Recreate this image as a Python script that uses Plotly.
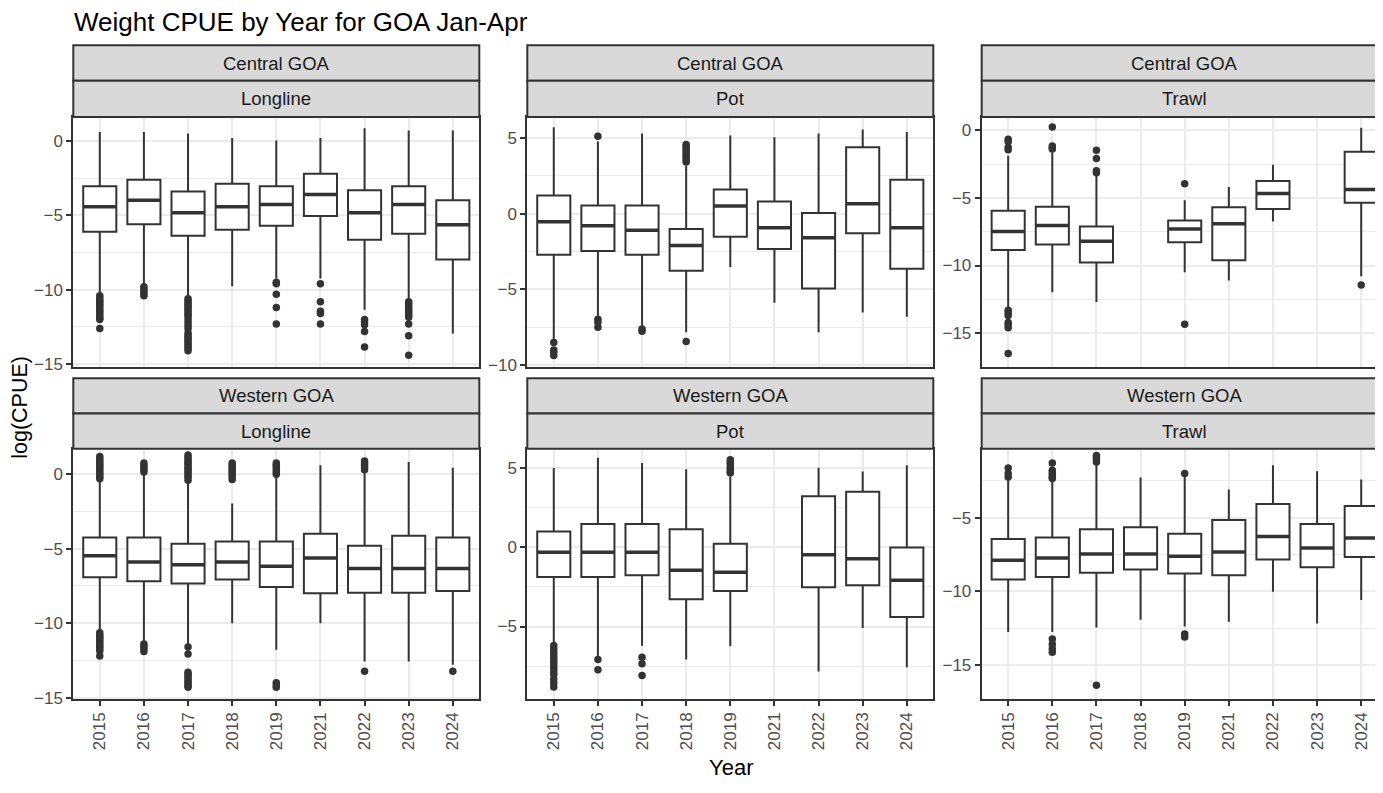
import plotly.graph_objects as go

YEARS = ["2015", "2016", "2017", "2018", "2019", "2021", "2022", "2023", "2024"]

# ---------------- Central GOA - Longline ----------------
CL_YEARS = ["2015", "2016", "2017", "2018", "2019", "2021", "2022", "2023", "2024"]
CL_LOW = [-10.2, -9.7, -10.5, -9.76, -9.25, -9.25, -11.35, -10.6, -12.94]
CL_Q1 = [-6.1, -5.6, -6.37, -5.97, -5.7, -5.04, -6.64, -6.24, -7.96]
CL_MED = [-4.42, -3.98, -4.82, -4.42, -4.27, -3.6, -4.82, -4.27, -5.64]
CL_Q3 = [-3.05, -2.6, -3.4, -2.88, -3.05, -2.2, -3.32, -3.05, -3.98]
CL_HIGH = [0.6, 0.6, 0.5, 0.2, 0.04, 0.2, 0.86, 0.7, 0.7]
CL_OUT = {
    "2015": [-10.4, -10.55, -10.7, -10.85, -11.0, -11.15, -11.3, -11.45, -11.6, -11.75, -11.9, -12.0, -12.6],
    "2016": [-9.8, -9.95, -10.1, -10.25, -10.4],
    "2017": [-10.6, -10.75, -10.9, -11.05, -11.2, -11.35, -11.5, -11.65, -11.8, -12.0, -12.2, -12.4, -12.6,
             -12.9, -13.05, -13.2, -13.35, -13.5, -13.65, -13.8, -13.95, -14.1],
    "2019": [-9.5, -9.6, -10.3, -11.2, -12.3],
    "2021": [-9.6, -10.8, -11.45, -11.6, -12.3],
    "2022": [-12.0, -12.15, -12.35, -12.8, -13.85],
    "2023": [-10.8, -10.95, -11.1, -11.25, -11.4, -11.55, -11.7, -11.85, -12.3, -13.1, -14.4],
}

# ---------------- Central GOA - Pot ----------------
CP_YEARS = ["2015", "2016", "2017", "2018", "2019", "2021", "2022", "2023", "2024"]
CP_LOW = [-8.37, -6.74, -7.4, -7.83, -3.52, -5.87, -7.83, -6.52, -6.8]
CP_Q1 = [-2.72, -2.46, -2.72, -3.76, -1.52, -2.33, -4.93, -1.3, -3.63]
CP_MED = [-0.54, -0.8, -1.09, -2.1, 0.5, -0.93, -1.59, 0.65, -0.93]
CP_Q3 = [1.2, 0.54, 0.54, -1.02, 1.59, 0.8, 0.04, 4.37, 2.24]
CP_HIGH = [5.7, 4.75, 5.28, 3.15, 5.15, 5.04, 5.28, 5.54, 5.39]
CP_OUT = {
    "2015": [-8.5, -9.0, -9.15, -9.35],
    "2016": [5.1, -6.96, -7.17, -7.5],
    "2017": [-7.6, -7.75],
    "2018": [3.4, 3.55, 3.7, 3.85, 4.0, 4.15, 4.3, 4.45, 4.56, -8.43],
}

# ---------------- Central GOA - Trawl ----------------
CT_YEARS = ["2015", "2016", "2017", "2019", "2021", "2022", "2024"]
CT_LOW = [-13.06, -11.97, -12.69, -10.5, -11.1, -6.75, -10.8]
CT_Q1 = [-8.86, -8.45, -9.78, -8.28, -9.61, -5.83, -5.36]
CT_MED = [-7.48, -7.04, -8.2, -7.31, -6.92, -4.68, -4.39]
CT_Q3 = [-5.95, -5.66, -7.11, -6.67, -5.7, -3.76, -1.6]
CT_HIGH = [-1.9, -1.65, -3.35, -5.17, -4.2, -2.55, 0.17]
CT_OUT = {
    "2015": [-0.68, -0.85, -1.29, -1.45, -13.3, -13.5, -13.7, -14.2, -14.4, -14.6, -16.5],
    "2016": [0.24, -1.17, -1.3, -1.4],
    "2017": [-1.48, -2.09, -2.99, -3.15],
    "2019": [-3.96, -14.34],
    "2024": [-11.43],
}

# ---------------- Western GOA - Longline ----------------
WL_YEARS = ["2015", "2016", "2017", "2018", "2019", "2021", "2022", "2023", "2024"]
WL_LOW = [-10.62, -11.33, -11.5, -10.0, -11.78, -10.0, -12.58, -12.58, -12.8]
WL_Q1 = [-6.91, -7.18, -7.33, -7.07, -7.58, -8.0, -7.96, -7.96, -7.84]
WL_MED = [-5.47, -5.89, -6.07, -5.89, -6.18, -5.62, -6.33, -6.33, -6.33]
WL_Q3 = [-4.24, -4.24, -4.67, -4.51, -4.51, -4.0, -4.8, -4.13, -4.24]
WL_HIGH = [-0.4, 0.04, -0.5, -1.96, -0.07, 0.6, 0.22, 0.82, 0.44]
WL_OUT = {
    "2015": [1.2, 1.05, 0.9, 0.75, 0.6, 0.45, 0.3, 0.15, 0.0, -0.15, -0.3,
             -10.65, -10.8, -10.95, -11.1, -11.25, -11.4, -11.55, -11.7, -11.85, -12.2],
    "2016": [0.75, 0.6, 0.45, 0.3, 0.15, -11.4, -11.55, -11.7, -11.9],
    "2017": [1.3, 1.15, 1.0, 0.85, 0.7, 0.55, 0.4, 0.25, 0.1, -0.05, -0.2, -0.4,
             -11.6, -12.07, -13.3, -13.45, -13.6, -13.75, -13.9, -14.05, -14.2, -14.3],
    "2018": [0.75, 0.6, 0.45, 0.3, 0.15, 0.0, -0.15, -0.35],
    "2019": [0.75, 0.6, 0.45, 0.3, 0.15, 0.0, -14.0, -14.15, -14.3],
    "2022": [0.9, 0.75, 0.6, 0.45, 0.3, -13.24],
    "2024": [-13.24],
}

# ---------------- Western GOA - Pot ----------------
WP_YEARS = ["2015", "2016", "2017", "2018", "2019", "2022", "2023", "2024"]
WP_LOW = [-6.1, -6.94, -6.21, -7.08, -6.25, -7.83, -5.1, -7.56]
WP_Q1 = [-1.88, -1.88, -1.77, -3.29, -2.77, -2.52, -2.4, -4.4]
WP_MED = [-0.33, -0.33, -0.33, -1.46, -1.58, -0.48, -0.73, -2.08]
WP_Q3 = [0.98, 1.46, 1.46, 1.13, 0.21, 3.21, 3.48, -0.02]
WP_HIGH = [4.98, 5.63, 5.29, 4.9, 4.42, 5.0, 4.77, 5.15]
WP_OUT = {
    "2015": [-6.2, -6.4, -6.6, -6.8, -7.0, -7.2, -7.4, -7.6, -7.8, -8.0, -8.3, -8.55, -8.81],
    "2016": [-7.08, -7.73],
    "2017": [-6.94, -7.35, -8.08],
    "2019": [5.5, 5.35, 5.2, 5.05, 4.9, 4.75, 4.67],
}

# ---------------- Western GOA - Trawl ----------------
WT_YEARS = ["2015", "2016", "2017", "2018", "2019", "2021", "2022", "2023", "2024"]
WT_LOW = [-12.76, -12.76, -12.46, -11.94, -12.4, -12.08, -10.04, -12.19, -10.6]
WT_Q1 = [-9.2, -9.04, -8.75, -8.53, -8.8, -8.91, -7.85, -8.37, -7.67]
WT_MED = [-7.9, -7.74, -7.47, -7.47, -7.63, -7.34, -6.28, -7.07, -6.39]
WT_Q3 = [-6.46, -6.35, -5.79, -5.65, -6.1, -5.16, -4.08, -5.43, -4.21]
WT_HIGH = [-2.28, -2.42, -1.29, -2.28, -2.24, -3.09, -1.45, -1.85, -2.42]
WT_OUT = {
    "2015": [-1.63, -2.0, -2.24],
    "2016": [-1.29, -1.79, -1.95, -2.1, -2.25, -2.35, -13.25, -13.6, -13.9, -14.15],
    "2017": [-0.78, -0.9, -1.05, -1.22, -16.39],
    "2019": [-2.01, -12.9, -13.1],
}

REGIONS = ["Central GOA", "Central GOA", "Central GOA", "Western GOA", "Western GOA", "Western GOA"]
GEARS = ["Longline", "Pot", "Trawl", "Longline", "Pot", "Trawl"]
Y_RANGES = [(-15.18, 1.61), (-10.1, 6.37), (-17.48, 0.97),
            (-15.07, 1.71), (-9.54, 6.19), (-17.29, -0.33)]

PANELS = [
    (CL_YEARS, CL_LOW, CL_Q1, CL_MED, CL_Q3, CL_HIGH, CL_OUT),
    (CP_YEARS, CP_LOW, CP_Q1, CP_MED, CP_Q3, CP_HIGH, CP_OUT),
    (CT_YEARS, CT_LOW, CT_Q1, CT_MED, CT_Q3, CT_HIGH, CT_OUT),
    (WL_YEARS, WL_LOW, WL_Q1, WL_MED, WL_Q3, WL_HIGH, WL_OUT),
    (WP_YEARS, WP_LOW, WP_Q1, WP_MED, WP_Q3, WP_HIGH, WP_OUT),
    (WT_YEARS, WT_LOW, WT_Q1, WT_MED, WT_Q3, WT_HIGH, WT_OUT),
]

# ---------------- layout geometry (window pixels) ----------------
WIN_W, WIN_H = 1383, 793
OFF = 8                      # default page body margin
W, H = WIN_W - OFF, WIN_H - 2 * OFF
FONT = "Liberation Sans, Arial, sans-serif"
DARK = "#333333"
GRID = "#EBEBEB"

COL_PX = [(73.3, 479.3), (527.3, 933.3), (981.7, 1387.7)]
ROW_PX = [(118.3, 371.0), (454.0, 706.7)]
STRIP_PX = [(45.7, 81.7, 118.3), (382.7, 418.3, 454.0)]


def fx(p):
    return (p - OFF) / W


def fy(p):
    return 1 - (p - OFF) / H


fig = go.Figure()
layout = dict(
    width=W, height=H,
    margin=dict(l=0, r=0, t=0, b=0),
    paper_bgcolor="white", plot_bgcolor="white",
    showlegend=False,
    font=dict(family=FONT),
)
shapes = []
annotations = []

for i, (yrs, low, q1, med, q3, high, outs) in enumerate(PANELS):
    r, c = divmod(i, 3)
    n = i + 1
    xa = "x" if n == 1 else f"x{n}"
    ya = "y" if n == 1 else f"y{n}"
    x0p, x1p = COL_PX[c]
    top, bot = ROW_PX[r]
    x1vis = min(x1p, WIN_W)
    full_units = 9.2
    xr = [-0.6, -0.6 + full_units * (x1vis - x0p) / (x1p - x0p)]

    fig.add_trace(go.Box(
        x=yrs, q1=q1, median=med, q3=q3, lowerfence=low, upperfence=high,
        xaxis=xa, yaxis=ya, fillcolor="white",
        line=dict(color=DARK, width=2), whiskerwidth=0, width=0.75,
        boxpoints=False, hoverinfo="skip", showlegend=False,
    ))
    px_per_unit = (x1p - x0p) / full_units
    fig.add_trace(go.Scatter(
        x=yrs, y=med, xaxis=xa, yaxis=ya, mode="markers",
        marker=dict(symbol="line-ew", size=0.75 * px_per_unit / 1.4,
                    line=dict(color=DARK, width=3.5)),
        hoverinfo="skip", showlegend=False,
    ))
    ox, oy = [], []
    for yr, vals in outs.items():
        ox += [yr] * len(vals)
        oy += vals
    fig.add_trace(go.Scatter(
        x=ox, y=oy, xaxis=xa, yaxis=ya, mode="markers",
        marker=dict(color=DARK, size=7.5, line=dict(width=0)),
        hoverinfo="skip", showlegend=False,
    ))

    bottom_row = (r == 1)
    layout["xaxis" if n == 1 else f"xaxis{n}"] = dict(
        domain=[fx(x0p), min(fx(x1vis), 1.0)], anchor=ya,
        type="category", categoryorder="array", categoryarray=YEARS,
        range=xr, showgrid=True, gridcolor=GRID, gridwidth=2,
        zeroline=False, showline=True, linecolor=DARK, linewidth=2, mirror=True,
        ticks="outside" if bottom_row else "", ticklen=5, tickcolor=DARK, tickwidth=1.5,
        showticklabels=bottom_row, tickangle=-90,
        tickfont=dict(size=17, color="#4D4D4D", family=FONT),
    )
    layout["yaxis" if n == 1 else f"yaxis{n}"] = dict(
        domain=[fy(bot), fy(top)], anchor=xa, range=list(Y_RANGES[i]),
        tickmode="linear", tick0=0, dtick=5,
        showgrid=True, gridcolor=GRID, gridwidth=2, zeroline=False,
        showline=True, linecolor=DARK, linewidth=2, mirror=(c != 2),
        ticks="outside", ticklen=5, tickcolor=DARK, tickwidth=1.5,
        tickfont=dict(size=17, color="#4D4D4D", family=FONT),
        minor=dict(tick0=0, dtick=2.5, showgrid=True, gridcolor=GRID, gridwidth=1),
    )

    s0, s1, s2 = STRIP_PX[r]
    xend = fx(x1p) if x1p <= WIN_W else 1.02
    for (ya0, ya1, label) in [(s0, s1, REGIONS[i]), (s1, s2, GEARS[i])]:
        shapes.append(dict(type="rect", xref="paper", yref="paper",
                           x0=fx(x0p), x1=xend, y0=fy(ya1), y1=fy(ya0),
                           fillcolor="#D9D9D9", line=dict(color=DARK, width=2), layer="above"))
        annotations.append(dict(text=label, xref="paper", yref="paper",
                                x=fx((x0p + x1p) / 2), y=fy((ya0 + ya1) / 2),
                                xanchor="center", yanchor="middle", showarrow=False,
                                font=dict(size=18.5, color="#1A1A1A", family=FONT)))

annotations.append(dict(text="Weight CPUE by Year for GOA Jan-Apr", xref="paper", yref="paper",
                        x=fx(72), y=fy(22), xanchor="left", yanchor="middle", showarrow=False,
                        font=dict(size=26, color="black", family=FONT)))
annotations.append(dict(text="log(CPUE)", xref="paper", yref="paper",
                        x=fx(20), y=fy(412.5), xanchor="center", yanchor="middle", showarrow=False,
                        textangle=-90, font=dict(size=21.5, color="black", family=FONT)))
annotations.append(dict(text="Year", xref="paper", yref="paper",
                        x=fx(730.5), y=fy(776), xanchor="center", yanchor="middle", showarrow=False,
                        font=dict(size=22, color="black", family=FONT)))

layout["shapes"] = shapes
layout["annotations"] = annotations
fig.update_layout(**layout)

fig.write_html("out.html")
